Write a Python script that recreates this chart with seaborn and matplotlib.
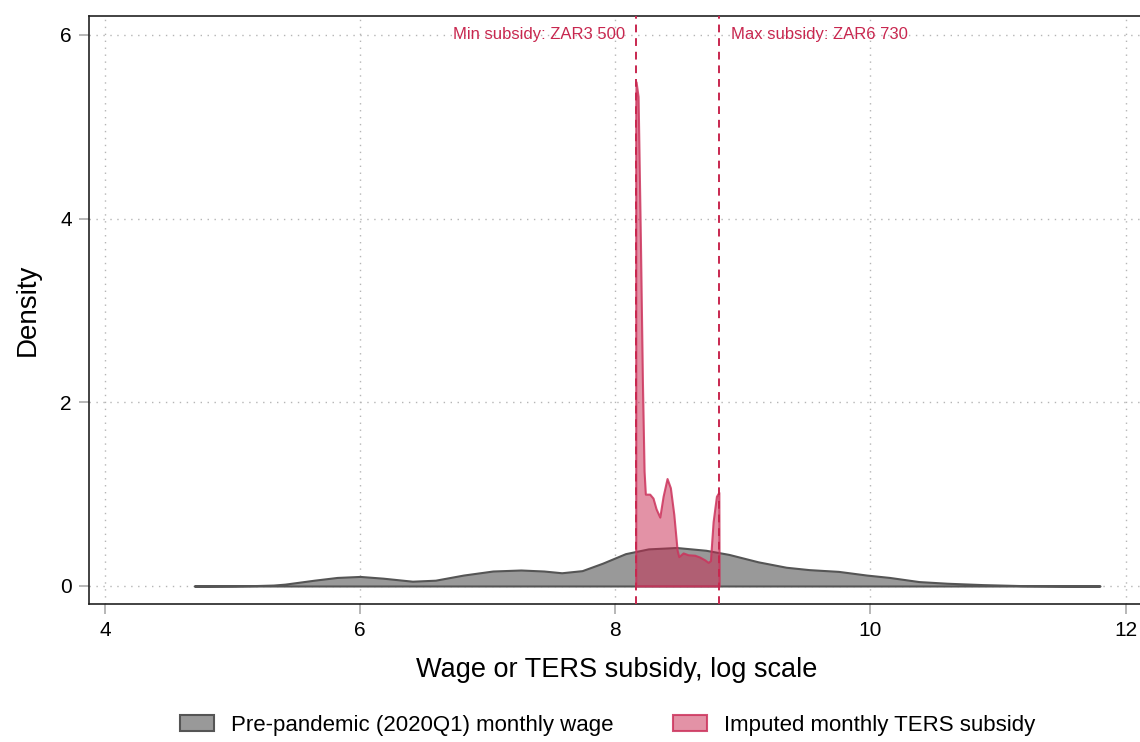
import matplotlib
matplotlib.use('Agg')
import numpy as np
import pandas as pd
import matplotlib.pyplot as plt
import seaborn as sns

# pre-pandemic log monthly wage density
wage_x = [4.70, 5.00, 5.19, 5.32, 5.41, 5.64, 5.82, 6.00, 6.18, 6.41, 6.59, 6.81,
          7.04, 7.26, 7.44, 7.58, 7.74, 7.90, 8.08, 8.26, 8.48, 8.71, 8.89, 9.12,
          9.34, 9.52, 9.75, 9.97, 10.15, 10.38, 10.60, 10.88, 11.19, 11.50, 11.80]
wage_d = [0.000, 0.002, 0.005, 0.010, 0.020, 0.063, 0.093, 0.104, 0.085, 0.052, 0.063, 0.119,
          0.163, 0.174, 0.163, 0.144, 0.167, 0.248, 0.352, 0.404, 0.419, 0.389, 0.344, 0.263,
          0.204, 0.178, 0.159, 0.119, 0.093, 0.048, 0.030, 0.015, 0.004, 0.001, 0.000]

# imputed TERS subsidy density (log scale)
ters_x = [8.1605, 8.1606, 8.163, 8.179, 8.197, 8.213, 8.226, 8.236, 8.270, 8.296, 8.320,
          8.349, 8.375, 8.406, 8.432, 8.459, 8.485, 8.498, 8.532, 8.571, 8.623, 8.662,
          8.702, 8.728, 8.746, 8.767, 8.793, 8.812, 8.8143]
ters_d = [0.0, 5.2, 5.49, 5.33, 3.78, 2.22, 1.25, 1.00, 1.00, 0.957, 0.84,
          0.75, 0.977, 1.17, 1.07, 0.78, 0.39, 0.32, 0.36, 0.34, 0.335, 0.315,
          0.284, 0.257, 0.276, 0.70, 0.977, 1.02, 0.0]

min_sub = np.log(3500)
max_sub = np.log(6730)

wage = pd.DataFrame({'x': wage_x, 'd': wage_d})
ters = pd.DataFrame({'x': ters_x, 'd': ters_d})

sns.set_theme(style='white')
plt.rcParams['font.family'] = ['Liberation Sans', 'DejaVu Sans']
plt.rcParams['text.color'] = 'black'
plt.rcParams['axes.labelcolor'] = 'black'

crimson = '#c8274f'

fig = plt.figure(figsize=(11.4, 7.42), dpi=100)
ax = fig.add_axes([0.0781, 0.186, 0.926, 0.7925])

ax.fill_between(wage.x, wage.d, color='#999999', label='Pre-pandemic (2020Q1) monthly wage',
                edgecolor='#555555', linewidth=1.5, zorder=2)
ax.fill_between(ters.x, ters.d, facecolor=(0.784, 0.153, 0.31, 0.5),
                edgecolor=(0.8, 0.2, 0.36, 0.85), linewidth=1.5,
                label='Imputed monthly TERS subsidy', zorder=3)

ax.axvline(min_sub, color=crimson, ls=(0, (4, 3)), lw=1.4, zorder=4)
ax.axvline(max_sub, color=crimson, ls=(0, (4, 3)), lw=1.4, zorder=4)
ax.text(min_sub - 0.08, 6, 'Min subsidy: ZAR3 500', color=crimson, fontsize=12,
        ha='right', va='center')
ax.text(max_sub + 0.09, 6, 'Max subsidy: ZAR6 730', color=crimson, fontsize=12,
        ha='left', va='center')

ax.set_xlim(3.875, 12.15)
ax.set_ylim(-0.196, 6.207)
ax.set_xticks([4, 6, 8, 10, 12])
ax.set_yticks([0, 2, 4, 6])
ax.grid(True, ls=(0, (1, 4)), color='#b5b5b5', lw=1)
ax.set_axisbelow(True)
ax.tick_params(axis='both', which='both', direction='out', length=7.5, width=1.2,
               color='#aaaaaa', labelsize=15, labelcolor='black', bottom=True, left=True, pad=5)
for side in ['left', 'bottom', 'top']:
    ax.spines[side].set_color('#222222')
    ax.spines[side].set_linewidth(1.2)
ax.spines['right'].set_visible(False)

ax.set_xlabel('Wage or TERS subsidy, log scale', fontsize=19.5, labelpad=12)
ax.set_ylabel('Density', fontsize=20, labelpad=14)

fig.legend(loc='center', bbox_to_anchor=(0.533, 0.0225), ncol=2, frameon=False,
           fontsize=16, handlelength=1.5, handleheight=0.73, columnspacing=2.7,
           handletextpad=0.77)

fig.savefig('out.png', dpi=100)
